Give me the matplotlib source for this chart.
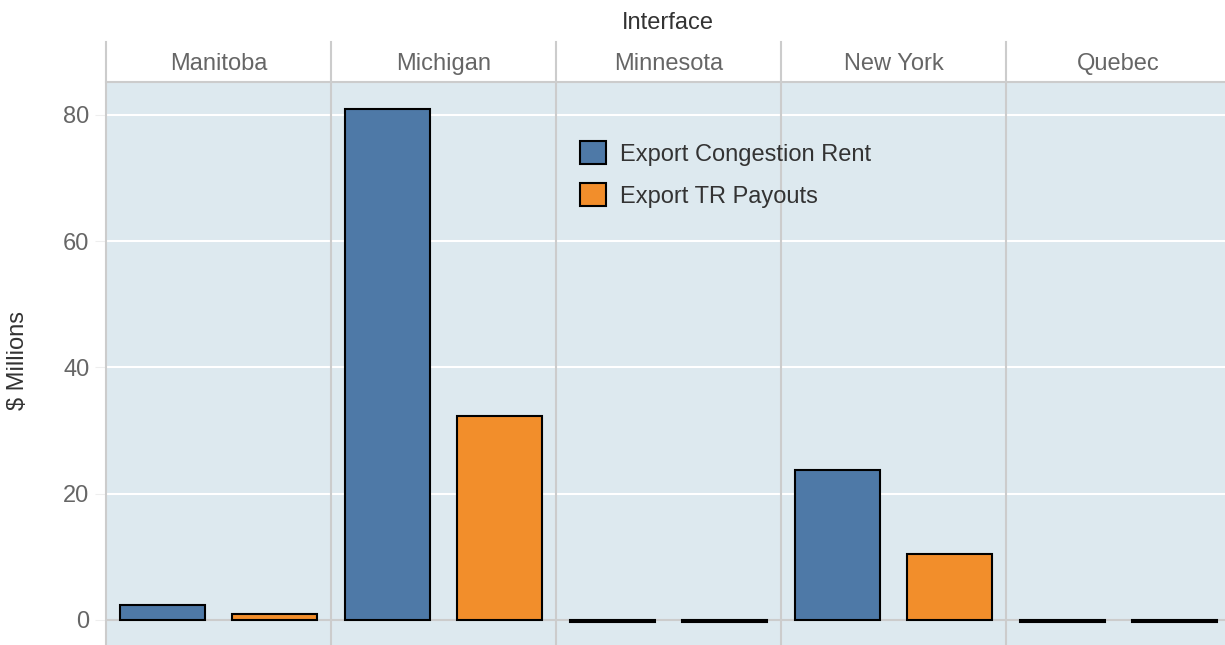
import numpy as np
import matplotlib.pyplot as plt
from matplotlib.patches import Patch
from matplotlib.lines import Line2D

plt.rcParams['font.family'] = ['Liberation Sans', 'DejaVu Sans']

interfaces = ["Manitoba", "Michigan", "Minnesota", "New York", "Quebec"]
congestion_rent = [2.4, 81.0, -0.25, 23.8, -0.25]
tr_payouts = [0.95, 32.3, -0.25, 10.5, -0.25]
series_names = ["Export Congestion Rent", "Export TR Payouts"]
series_colors = ["#4e79a7", "#f28e2b"]
yticks = [0, 20, 40, 60, 80]

W, H = 1225, 645
fig = plt.figure(figsize=(W / 100, H / 100), dpi=100)

bg = "#dde9ef"
sep = "#cccccc"
left_px, top_px, strip_px = 106, 82, 42
panel_w = 225
ymin, ymax = -3.96, 85.2

for i, name in enumerate(interfaces):
    x0 = (left_px + i * panel_w) / W
    ax = fig.add_axes([x0, 0, panel_w / W, 1 - top_px / H])
    ax.set_facecolor(bg)
    for s in ax.spines.values():
        s.set_visible(False)
    for t in yticks:
        ax.axhline(t, color="white" if t else sep, lw=1.5, zorder=0.5)
    vals = [congestion_rent[i], tr_payouts[i]]
    ax.bar([0, 1], vals, width=0.755, color=series_colors,
           edgecolor="black", linewidth=1.5, zorder=2)
    ax.set_xlim(-0.5, 1.5)
    ax.set_ylim(ymin, ymax)
    ax.set_xticks([])
    ax.set_yticks(yticks)
    if i == 0:
        ax.tick_params(axis="y", length=8, color="#eeeeee", labelsize=17,
                       labelcolor="#666666", pad=4)
    else:
        ax.tick_params(axis="y", length=0, labelleft=False)
    fig.text((left_px + (i + 0.5) * panel_w) / W, 1 - 64 / H, name,
             ha="center", va="center", fontsize=17, color="#666666")
    # panel separator
    fig.add_artist(Line2D([x0, x0], [0, 1 - strip_px / H], color=sep, lw=1.5))

# top border of plot area
fig.add_artist(Line2D([left_px / W, 1], [1 - top_px / H, 1 - top_px / H], color=sep, lw=1.5))

fig.text(668 / W, 1 - 23 / H, "Interface",
         ha="center", va="center", fontsize=17, color="#333333")
fig.text(18 / W, 1 - 360 / H, "$ Millions", rotation=90,
         ha="center", va="center", fontsize=17, color="#333333")

handles = [Patch(facecolor=c, edgecolor="black", linewidth=1.5) for c in series_colors]
fig.legend(handles, series_names, loc="upper left",
           bbox_to_anchor=(559 / W, 1 - 120 / H), frameon=False, fontsize=17,
           labelcolor="#333333", handlelength=1.1, handleheight=1.1,
           handletextpad=0.6, labelspacing=0.75)

fig.savefig("out.png", dpi=100, facecolor="white")
